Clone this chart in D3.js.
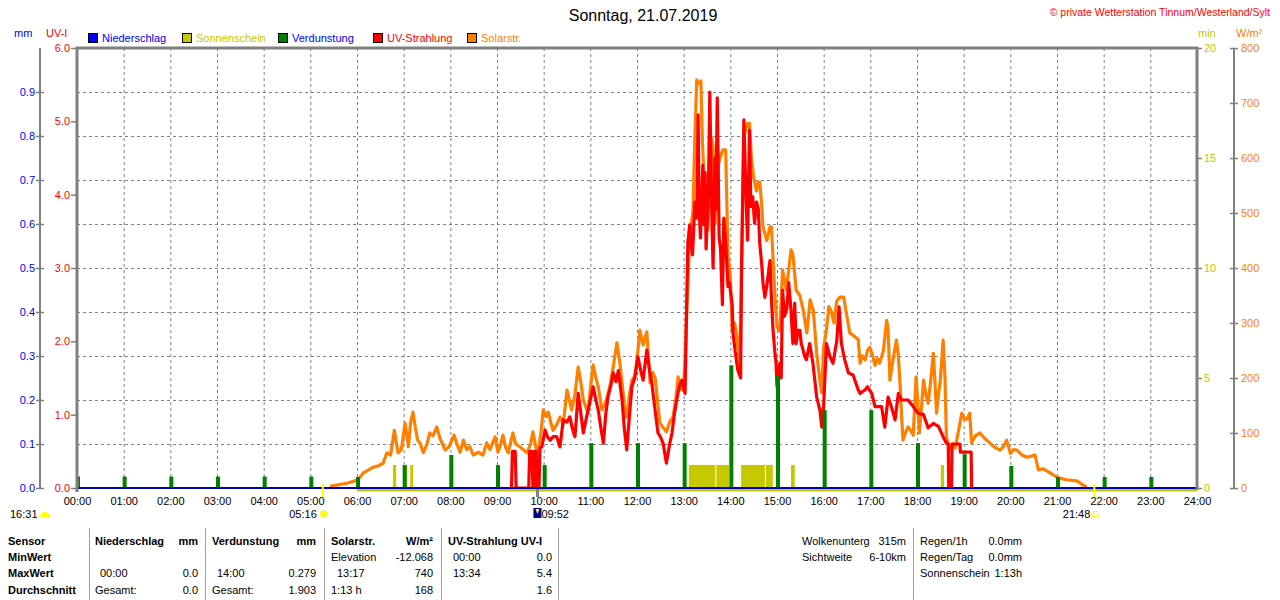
<!DOCTYPE html>
<html><head><meta charset="utf-8">
<script src="https://cdn.jsdelivr.net/npm/d3@7/dist/d3.min.js"></script>
<style>body{margin:0;background:#fff}svg{display:block;font-family:"Liberation Sans",Arial,sans-serif}</style>
</head><body><svg id="c" width="1280" height="600"></svg>
<script>
// ---------- DATA ----------
const title = "Sonntag, 21.07.2019";
const copyright = "© private Wetterstation Tinnum/Westerland/Sylt";
const hourLabels = ["00:00","01:00","02:00","03:00","04:00","05:00","06:00","07:00","08:00","09:00","10:00","11:00","12:00","13:00","14:00","15:00","16:00","17:00","18:00","19:00","20:00","21:00","22:00","23:00","24:00"];
const mmTicks = [0,0.1,0.2,0.3,0.4,0.5,0.6,0.7,0.8,0.9];
const uvTicks = [0,1,2,3,4,5,6];
const sunTicks = [0,5,10,15,20];
const solarTicks = [0,100,200,300,400,500,600,700,800];
const legendNames = ["Niederschlag","Sonnenschein","Verdunstung","UV-Strahlung","Solarstr."];
// solar radiation W/m² : [hour, value]
const solar = [[5.42,3],[5.6,6],[5.8,9],[5.96,13],[6.05,18],[6.13,27],[6.25,33],[6.35,38],[6.45,40],[6.56,45],[6.64,64],[6.72,60],[6.8,105],[6.88,64],[6.95,70],[7.03,118],[7.1,75],[7.15,120],[7.2,138],[7.25,110],[7.3,87],[7.36,80],[7.42,64],[7.5,80],[7.56,100],[7.63,95],[7.71,111],[7.78,90],[7.89,69],[7.97,75],[8.08,96],[8.14,80],[8.21,65],[8.28,87],[8.35,70],[8.42,75],[8.49,60],[8.6,65],[8.7,60],[8.78,82],[8.85,70],[8.96,93],[9.02,65],[9.08,80],[9.13,96],[9.18,75],[9.24,64],[9.34,100],[9.4,80],[9.49,75],[9.56,70],[9.64,64],[9.72,80],[9.77,102],[9.83,75],[9.88,64],[9.94,100],[9.99,142],[10.05,130],[10.1,138],[10.15,120],[10.2,105],[10.28,115],[10.35,129],[10.42,116],[10.5,178],[10.55,160],[10.6,142],[10.67,170],[10.74,220],[10.8,190],[10.85,160],[10.95,136],[11.0,180],[11.06,224],[11.12,200],[11.17,184],[11.25,142],[11.3,150],[11.36,165],[11.43,190],[11.49,220],[11.57,264],[11.63,230],[11.68,191],[11.73,150],[11.78,129],[11.84,170],[11.89,196],[11.96,204],[12.02,250],[12.06,287],[12.13,260],[12.21,284],[12.28,191],[12.34,210],[12.39,200],[12.45,150],[12.49,118],[12.56,110],[12.63,102],[12.7,120],[12.77,129],[12.83,160],[12.88,202],[12.93,180],[12.99,178],[13.03,233],[13.07,329],[13.13,456],[13.2,505],[13.24,638],[13.28,742],[13.33,735],[13.37,740],[13.4,633],[13.45,540],[13.48,520],[13.52,470],[13.56,560],[13.6,636],[13.63,620],[13.67,480],[13.7,520],[13.74,587],[13.78,600],[13.84,615],[13.9,615],[13.95,424],[14.0,384],[14.04,287],[14.09,300],[14.13,282],[14.17,250],[14.2,220],[14.24,396],[14.29,640],[14.37,663],[14.41,663],[14.45,602],[14.5,565],[14.56,540],[14.6,556],[14.63,556],[14.67,518],[14.7,475],[14.78,450],[14.85,475],[14.88,475],[14.95,360],[14.98,320],[15.0,293],[15.06,285],[15.12,396],[15.2,360],[15.3,433],[15.34,425],[15.41,360],[15.49,350],[15.56,324],[15.64,282],[15.71,342],[15.78,322],[15.85,245],[15.92,196],[15.96,173],[16.0,256],[16.06,287],[16.11,330],[16.16,322],[16.22,300],[16.28,340],[16.35,347],[16.43,347],[16.49,316],[16.56,282],[16.67,275],[16.74,270],[16.78,227],[16.83,240],[16.89,233],[16.94,250],[16.99,256],[17.05,240],[17.1,223],[17.15,235],[17.2,227],[17.28,250],[17.35,305],[17.38,290],[17.42,196],[17.48,230],[17.56,269],[17.6,240],[17.64,185],[17.67,130],[17.7,87],[17.75,100],[17.81,111],[17.86,105],[17.92,96],[17.98,202],[18.02,150],[18.05,100],[18.1,150],[18.14,196],[18.19,170],[18.24,154],[18.3,200],[18.35,245],[18.38,200],[18.42,136],[18.46,170],[18.5,196],[18.56,269],[18.6,200],[18.63,93],[18.71,69],[18.76,80],[18.82,73],[18.88,100],[18.96,136],[19.02,125],[19.07,125],[19.13,136],[19.17,82],[19.25,95],[19.35,100],[19.45,90],[19.56,82],[19.65,75],[19.78,69],[19.85,75],[19.92,87],[20.0,63],[20.07,70],[20.14,69],[20.25,60],[20.35,56],[20.45,58],[20.53,60],[20.6,33],[20.7,35],[20.78,31],[20.9,25],[20.99,20],[21.1,17],[21.21,15],[21.32,14],[21.42,13],[21.5,9],[21.56,5],[21.64,2]];
// UV index : [hour, value]
const uv = [[9.31,0],[9.33,0.5],[9.39,0.5],[9.41,0],[9.68,0],[9.7,0.5],[9.75,0.5],[9.77,0],[9.79,0],[9.8,0.5],[9.84,0.5],[9.86,0],[9.9,0],[9.92,0.55],[9.96,0.56],[10.03,0.79],[10.08,0.7],[10.14,0.65],[10.2,0.7],[10.28,0.7],[10.35,0.56],[10.42,0.93],[10.5,0.9],[10.56,0.97],[10.62,0.8],[10.67,0.7],[10.74,1.29],[10.8,1.0],[10.85,0.75],[10.92,0.97],[11.0,1.2],[11.06,1.38],[11.12,1.2],[11.17,1.06],[11.23,0.8],[11.28,0.61],[11.33,1.0],[11.38,1.25],[11.44,1.4],[11.49,1.57],[11.55,1.45],[11.6,1.6],[11.68,1.2],[11.73,0.8],[11.78,0.52],[11.84,1.0],[11.89,1.38],[11.95,1.5],[12.02,1.79],[12.08,1.6],[12.13,1.47],[12.21,1.88],[12.27,1.6],[12.32,1.42],[12.38,1.1],[12.45,0.75],[12.5,0.7],[12.56,0.61],[12.63,0.34],[12.7,0.6],[12.75,0.75],[12.8,1.0],[12.85,1.2],[12.91,1.4],[12.96,1.47],[13.03,1.29],[13.06,2.36],[13.09,3.35],[13.13,3.59],[13.16,3.3],[13.19,3.18],[13.24,3.9],[13.28,3.68],[13.31,5.09],[13.33,3.82],[13.36,3.41],[13.41,4.4],[13.44,3.59],[13.46,4.3],[13.48,3.26],[13.53,4.04],[13.56,5.4],[13.6,3.82],[13.63,3.0],[13.67,4.5],[13.69,3.8],[13.72,5.32],[13.76,3.41],[13.79,3.26],[13.83,2.5],[13.86,3.68],[13.9,3.35],[13.95,2.75],[13.98,2.8],[14.04,2.5],[14.06,2.1],[14.1,1.88],[14.16,1.61],[14.22,1.5],[14.24,2.97],[14.29,5.02],[14.34,3.88],[14.37,3.38],[14.41,4.88],[14.44,3.84],[14.48,3.97],[14.52,3.61],[14.56,3.9],[14.6,3.8],[14.63,3.34],[14.67,3.07],[14.7,2.8],[14.74,2.6],[14.78,2.75],[14.85,3.1],[14.88,2.6],[14.91,2.2],[14.95,1.88],[14.98,1.7],[15.0,1.38],[15.06,1.7],[15.09,1.5],[15.12,2.7],[15.16,2.34],[15.21,2.45],[15.25,2.8],[15.3,2.43],[15.34,1.97],[15.38,2.52],[15.41,1.97],[15.45,2.15],[15.49,2.15],[15.52,1.97],[15.56,1.88],[15.59,1.8],[15.63,1.75],[15.7,1.97],[15.77,1.7],[15.85,1.24],[15.92,1.06],[15.96,0.83],[16.0,1.13],[16.06,1.97],[16.13,1.8],[16.2,1.7],[16.28,2.0],[16.33,2.47],[16.38,1.97],[16.45,1.75],[16.53,1.57],[16.63,1.54],[16.74,1.34],[16.78,1.29],[16.89,1.34],[16.94,1.38],[17.03,1.29],[17.1,1.11],[17.24,1.11],[17.31,0.83],[17.38,1.24],[17.45,1.11],[17.53,0.93],[17.6,1.29],[17.67,1.2],[17.81,1.2],[17.92,1.11],[18.02,1.02],[18.14,1.0],[18.24,0.82],[18.35,0.88],[18.46,0.84],[18.56,0.7],[18.63,0.61],[18.67,0.6],[18.68,0],[18.74,0],[18.75,0.6],[18.92,0.6],[18.93,0.49],[19.16,0.49],[19.17,0]];
// evaporation mm per hour (bars at each full hour 0..23)
const evaporation = [0.026,0.026,0.026,0.026,0.026,0.026,0.025,0.052,0.075,0.052,0.052,0.102,0.102,0.102,0.279,0.255,0.177,0.177,0.102,0.077,0.05,0.025,0.025,0.025];
// sunshine minutes: interval start/end (hour) and value (min)
const sunFrom = [6.77,7.03,7.14,13.11,13.70,14.23,14.76,15.30,18.51];
const sunTo   = [6.84,7.07,7.20,13.68,13.97,14.74,14.91,15.38,18.58];
const sunVal  = [1.05,1.05,1.05,1.05,1.05,1.05,1.05,1.05,1.05];
const sunshineBaseStart = 6.0;
const sunrise = 5.267, sunset = 21.8, moonEvent = 9.867;
const tableRows = [
  ["Sensor","Niederschlag","mm","Verdunstung","mm","Solarstr.","W/m²","UV-Strahlung UV-I",""],
  ["MinWert","","","","","Elevation","-12.068","00:00","0.0"],
  ["MaxWert","00:00","0.0","14:00","0.279","13:17","740","13:34","5.4"],
  ["Durchschnitt","Gesamt:","0.0","Gesamt:","1.903","1:13 h","168","","1.6"]
];
const extraRows = [["Wolkenunterg","315m","Regen/1h","0.0mm"],["Sichtweite","6-10km","Regen/Tag","0.0mm"],["","","Sonnenschein","1:13h"]];

// ---------- DRAW ----------
const C = {blue:"#0000ff",olive:"#c8c800",green:"#008000",red:"#ff0000",orange:"#ff8000",gray:"#808080"};
const legendColors = [C.blue,C.olive,C.green,C.red,C.orange];
const legendText = [C.blue,C.olive,C.blue,C.red,C.orange];
const svg = d3.select("#c");
const L=77,R=1197,T=48,B=488;
const x = d3.scaleLinear().domain([0,24]).range([L,R]);
const yMM = d3.scaleLinear().domain([0,1]).range([B,T]);
const yUV = d3.scaleLinear().domain([0,6]).range([B,T]);
const ySun = d3.scaleLinear().domain([0,20]).range([B,T]);
const ySol = d3.scaleLinear().domain([0,800]).range([B,T]);
const fs = "11px";

svg.append("text").attr("x",643).attr("y",21).attr("text-anchor","middle").attr("font-size","16px").text(title);
svg.append("text").attr("x",1270).attr("y",16).attr("text-anchor","end").attr("font-size","10.5px").attr("fill",C.red).text(copyright);

// units
svg.append("text").attr("x",14).attr("y",37).attr("font-size",fs).attr("fill",C.blue).text("mm");
svg.append("text").attr("x",46).attr("y",37).attr("font-size",fs).attr("fill",C.red).text("UV-I");
svg.append("text").attr("x",1198).attr("y",37).attr("font-size",fs).attr("fill",C.olive).text("min");
svg.append("text").attr("x",1236).attr("y",37).attr("font-size",fs).attr("fill",C.orange).text("W/m²");

// legend
const legX = [88,182,278,373,467];
legendNames.forEach((n,i)=>{
  svg.append("rect").attr("x",legX[i]+0.5).attr("y",33.5).attr("width",9).attr("height",9).attr("fill",legendColors[i]).attr("stroke","#000");
  svg.append("text").attr("x",legX[i]+14).attr("y",42).attr("font-size",fs).attr("fill",legendText[i]).text(n);
});

// grid
const g = svg.append("g");
g.selectAll(".vg").data(d3.range(1,24)).join("line").attr("x1",d=>x(d)+0.5).attr("x2",d=>x(d)+0.5).attr("y1",T).attr("y2",B)
  .attr("stroke",C.gray).attr("stroke-dasharray","3,3");
g.selectAll(".hg").data(d3.range(1,10).map(d=>d/10)).join("line").attr("y1",d=>Math.round(yMM(d))+0.5).attr("y2",d=>Math.round(yMM(d))+0.5).attr("x1",L).attr("x2",R)
  .attr("stroke",C.gray).attr("stroke-dasharray","3,3");

// series lines
const solLine = d3.line().x(d=>x(d[0])).y(d=>ySol(d[1]));
const uvLine = d3.line().x(d=>x(d[0])).y(d=>yUV(d[1]));
svg.append("path").attr("d",solLine(solar)).attr("fill","none").attr("stroke",C.orange).attr("stroke-width",3.2).attr("stroke-linejoin","round");
svg.append("path").attr("d",uvLine(uv)).attr("fill","none").attr("stroke",C.red).attr("stroke-width",3.2).attr("stroke-linejoin","round");

// sunshine bars
svg.selectAll(".sun").data(sunFrom).join("rect").attr("x",(d)=>x(d)).attr("width",(d,i)=>Math.max(2,x(sunTo[i])-x(d)))
  .attr("y",(d,i)=>ySun(sunVal[i])).attr("height",(d,i)=>B-ySun(sunVal[i])).attr("fill",C.olive);
// evaporation bars
svg.selectAll(".ev").data(evaporation).join("rect").attr("x",(d,i)=>x(i)-1).attr("width",4)
  .attr("y",d=>yMM(d)).attr("height",d=>B-yMM(d)).attr("fill",C.green);

// baselines
svg.append("line").attr("x1",x(sunshineBaseStart)).attr("x2",R).attr("y1",B+2).attr("y2",B+2).attr("stroke",C.olive).attr("stroke-width",3);
svg.append("line").attr("x1",L).attr("x2",R).attr("y1",B).attr("y2",B).attr("stroke","#0000c0").attr("stroke-width",2);

// frame
svg.append("path").attr("d",`M${L},${B+4}V${T}H${R}V${B+2}`).attr("fill","none").attr("stroke",C.gray).attr("stroke-width",3);

// axes
function styleAxis(sel,color){sel.selectAll("text").attr("fill",color).attr("font-size",fs).attr("font-family","Liberation Sans, Arial, sans-serif");sel.selectAll("line").attr("stroke",C.gray).attr("stroke-width",1.5);}
const aMM = svg.append("g").attr("transform","translate(40,0)").call(d3.axisLeft(yMM).tickValues(mmTicks).tickFormat(d3.format(".1f")).tickSize(4).tickPadding(1));
aMM.select(".domain").attr("stroke",C.gray).attr("stroke-width",2).attr("d",`M0,${T}V${B}`);
aMM.selectAll(".tick line").attr("x2",-4).attr("x1",4);
styleAxis(aMM,C.blue);
const aUV = svg.append("g").attr("transform",`translate(${L-1},0)`).call(d3.axisLeft(yUV).tickValues(uvTicks).tickFormat(d3.format(".1f")).tickSize(5).tickPadding(1));
aUV.select(".domain").remove();
styleAxis(aUV,C.red);
const aSun = svg.append("g").attr("transform",`translate(${R+1},0)`).call(d3.axisRight(ySun).tickValues(sunTicks).tickSize(4).tickPadding(2));
aSun.select(".domain").remove();
styleAxis(aSun,C.olive);
const aSol = svg.append("g").attr("transform","translate(1234,0)").call(d3.axisRight(ySol).tickValues(solarTicks).tickSize(4).tickPadding(3));
aSol.select(".domain").attr("stroke",C.gray).attr("stroke-width",2).attr("d",`M0,${T}V${B}`);
aSol.selectAll(".tick line").attr("x1",-4).attr("x2",4);
styleAxis(aSol,C.orange);
const aX = svg.append("g").attr("transform",`translate(0,${B})`).call(d3.axisBottom(x).tickValues(d3.range(0,25)).tickFormat(d=>hourLabels[d]).tickSize(0).tickPadding(9));
aX.select(".domain").remove();
styleAxis(aX,"#000");

// sunrise / sunset / moon markers
svg.append("line").attr("x1",x(sunrise)).attr("x2",x(sunrise)).attr("y1",B-4).attr("y2",B+9).attr("stroke","#ffff00").attr("stroke-width",2);
svg.append("line").attr("x1",x(sunset)).attr("x2",x(sunset)).attr("y1",B-4).attr("y2",B+9).attr("stroke","#ffff00").attr("stroke-width",2);
svg.append("line").attr("x1",x(moonEvent)).attr("x2",x(moonEvent)).attr("y1",B+1).attr("y2",B+9).attr("stroke",C.gray).attr("stroke-width",3);
svg.append("text").attr("x",x(sunrise)-6).attr("y",518).attr("text-anchor","end").attr("font-size",fs).text("05:16");
svg.append("circle").attr("cx",x(sunrise)+1).attr("cy",514).attr("r",3.5).attr("fill","#ffff00").attr("stroke","#f0f080");
svg.append("text").attr("x",x(sunset)-4).attr("y",518).attr("text-anchor","end").attr("font-size",fs).text("21:48");
svg.append("rect").attr("x",x(sunset)-1.5).attr("y",511.5).attr("width",5).attr("height",5).attr("fill","none").attr("stroke","#ffff00");
svg.append("text").attr("x",10).attr("y",518).attr("font-size",fs).text("16:31");
svg.append("path").attr("d","M40,517 A5,5 0 0 1 50,517 Z").attr("fill","#ffff00");
svg.append("rect").attr("x",x(moonEvent)-4).attr("y",508).attr("width",8).attr("height",10).attr("fill","#000080");
svg.append("path").attr("d",`M${x(moonEvent)-2},509 h4 l-2,5 z`).attr("fill","#ffff00");
svg.append("text").attr("x",x(moonEvent)+4).attr("y",518).attr("font-size",fs).text("09:52");

// table
const rowY = [545,561,577,594];
const seps = [89,205,324,441,558,913];
seps.forEach(s=>svg.append("line").attr("x1",s+0.5).attr("x2",s+0.5).attr("y1",528).attr("y2",600).attr("stroke","#a0a0a0"));
const colSpec = [[8,"start"],[95,"start"],[198,"end"],[212,"start"],[316,"end"],[331,"start"],[433,"end"],[448,"start"],[552,"end"]];
tableRows.forEach((row,r)=>{
  row.forEach((t,c)=>{
    if(!t) return;
    let xx = colSpec[c][0];
    if(r>0 && (c===1||c===3||c===7) && /^\d\d:\d\d$/.test(t)) xx += 5;
    if(r>0 && c===5 && /^\d\d:\d\d$/.test(t)) xx += 6;
    svg.append("text").attr("x",xx).attr("y",rowY[r]).attr("text-anchor",colSpec[c][1]).attr("font-size",fs)
      .attr("font-weight",(r===0||c===0)?"bold":"normal").text(t);
  });
});
const exSpec = [[802,"start"],[906,"end"],[920,"start"],[1022,"end"]];
extraRows.forEach((row,r)=>{
  row.forEach((t,c)=>{ if(!t) return;
    svg.append("text").attr("x",exSpec[c][0]).attr("y",rowY[r]).attr("text-anchor",exSpec[c][1]).attr("font-size",fs).text(t);
  });
});
</script></body></html>
